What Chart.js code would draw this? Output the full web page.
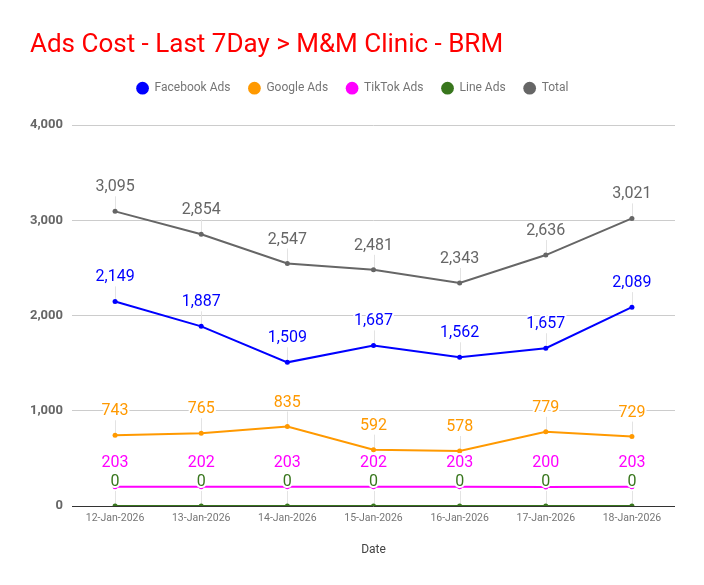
<!DOCTYPE html>
<html>
<head>
<meta charset="utf-8">
<title>Ads Cost - Last 7Day</title>
<script src="https://cdn.jsdelivr.net/npm/chart.js@4.4.1/dist/chart.umd.min.js"></script>
<style>
    html, body { margin: 0; padding: 0; background: #ffffff; }
    #wrap { width: 704px; height: 585px; position: relative; }
</style>
</head>
<body>
<div id="wrap"><canvas id="adsChart"></canvas></div>
<script>
// Chart data
const dates = ['12-Jan-2026', '13-Jan-2026', '14-Jan-2026', '15-Jan-2026', '16-Jan-2026', '17-Jan-2026', '18-Jan-2026'];
const facebookAds = [2149, 1887, 1509, 1687, 1562, 1657, 2089];
const googleAds = [743, 765, 835, 592, 578, 779, 729];
const tiktokAds = [203, 202, 203, 202, 203, 200, 203];
const lineAds = [0, 0, 0, 0, 0, 0, 0];
const totalCost = [3095, 2854, 2547, 2481, 2343, 2636, 3021];
const yTicks = [0, 1000, 2000, 3000, 4000];

const FONT = 'Roboto, "Noto Sans", Arial, sans-serif';
const LABEL_OFFSET = 24;

function series(label, data, color) {
    return {
        label: label,
        data: data,
        borderColor: color,
        backgroundColor: color,
        borderWidth: 2,
        pointRadius: 2.5,
        pointHoverRadius: 4,
        pointBorderWidth: 0,
        tension: 0,
        fill: false
    };
}

// Add some room under the legend
const legendGap = {
    id: 'legendGap',
    beforeInit(chart) {
        const origFit = chart.legend.fit;
        chart.legend.fit = function() {
            origFit.bind(chart.legend)();
            this.height += 21;
        };
    }
};

// Value labels above each point, with faint leader lines
const valueLabels = {
    id: 'valueLabels',
    beforeDatasetsDraw(chart) {
        const ctx = chart.ctx;
        ctx.save();
        ctx.strokeStyle = '#e3e3e3';
        ctx.lineWidth = 1;
        chart.data.datasets.forEach((ds, i) => {
            chart.getDatasetMeta(i).data.forEach(pt => {
                ctx.beginPath();
                ctx.moveTo(Math.round(pt.x) + 0.5, pt.y - LABEL_OFFSET + 9);
                ctx.lineTo(Math.round(pt.x) + 0.5, pt.y);
                ctx.stroke();
            });
        });
        ctx.restore();
    },
    afterDatasetsDraw(chart) {
        const ctx = chart.ctx;
        ctx.save();
        ctx.font = '16px ' + FONT;
        ctx.textAlign = 'center';
        ctx.textBaseline = 'middle';
        ctx.lineJoin = 'round';
        chart.data.datasets.forEach((ds, i) => {
            chart.getDatasetMeta(i).data.forEach((pt, j) => {
                const txt = ds.data[j].toLocaleString('en-US');
                const y = pt.y - LABEL_OFFSET;
                ctx.strokeStyle = '#ffffff';
                ctx.lineWidth = 4;
                ctx.strokeText(txt, pt.x, y);
                ctx.fillStyle = ds.borderColor;
                ctx.fillText(txt, pt.x, y);
            });
        });
        ctx.restore();
    }
};

const ctx = document.getElementById('adsChart').getContext('2d');

new Chart(ctx, {
    type: 'line',
    data: {
        labels: dates,
        datasets: [
            series('Facebook Ads', facebookAds, '#0000ff'),
            series('Google Ads', googleAds, '#ff9900'),
            series('TikTok Ads', tiktokAds, '#ff00ff'),
            series('Line Ads', lineAds, '#38761d'),
            series('Total', totalCost, '#666666')
        ]
    },
    plugins: [legendGap, valueLabels],
    options: {
        responsive: true,
        maintainAspectRatio: false,
        animation: false,
        layout: {
            padding: { left: 30, right: 29, top: 0, bottom: 28 }
        },
        plugins: {
            title: {
                display: true,
                text: 'Ads Cost - Last 7Day > M&M Clinic - BRM',
                align: 'start',
                color: '#ff0000',
                font: { family: FONT, size: 26, weight: 'normal' },
                padding: { top: 30, bottom: 3 }
            },
            legend: {
                position: 'top',
                labels: {
                    usePointStyle: true,
                    pointStyle: 'circle',
                    boxWidth: 12,
                    boxHeight: 9,
                    padding: 18,
                    color: '#757575',
                    font: { family: FONT, size: 12 }
                }
            },
            tooltip: { enabled: true }
        },
        scales: {
            x: {
                offset: true,
                grid: { display: false, drawTicks: false },
                border: { display: false },
                ticks: {
                    color: '#757575',
                    font: { family: FONT, size: 10.5 },
                    padding: 6,
                    maxRotation: 0,
                    autoSkip: false
                },
                title: {
                    display: true,
                    text: 'Date',
                    color: '#444444',
                    font: { family: FONT, size: 12 },
                    padding: { top: 12, bottom: 0 }
                }
            },
            y: {
                min: yTicks[0],
                max: yTicks[yTicks.length - 1],
                afterBuildTicks(scale) {
                    scale.ticks = yTicks.map(v => ({ value: v }));
                },
                afterFit(scale) {
                    scale.width = 42;
                },
                grid: {
                    drawTicks: false,
                    color: c => (c.tick && c.tick.value === 0 ? '#333333' : '#cccccc'),
                    lineWidth: 1
                },
                border: { display: false },
                ticks: {
                    color: '#666666',
                    font: { family: FONT, size: 13, weight: 'bold' },
                    padding: 9,
                    callback: v => v.toLocaleString('en-US')
                }
            }
        }
    }
});
</script>
</body>
</html>
